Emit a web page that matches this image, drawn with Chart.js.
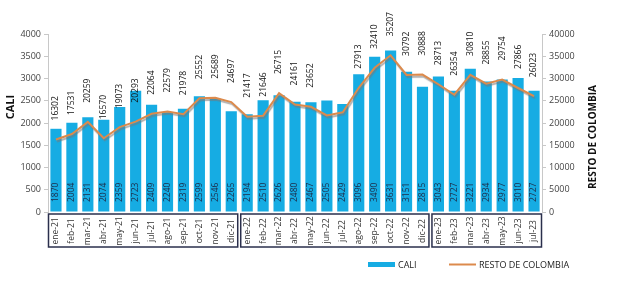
<!DOCTYPE html>
<html>
<head>
<meta charset="utf-8">
<script src="https://cdn.jsdelivr.net/npm/chart.js@4.4.1/dist/chart.umd.min.js"></script>
<style>
  html, body { margin: 0; padding: 0; background: #fff; }
  #wrap { width: 619px; height: 301px; }
</style>
</head>
<body>
<div id="wrap"><canvas id="myChart" width="619" height="301"></canvas></div>
<script>
'use strict';
// datos
const meses = ['ene-21','feb-21','mar-21','abr-21','may-21','jun-21','jul-21','ago-21','sep-21','oct-21','nov-21','dic-21',
  'ene-22','feb-22','mar-22','abr-22','may-22','jun-22','jul-22','ago-22','sep-22','oct-22','nov-22','dic-22',
  'ene-23','feb-23','mar-23','abr-23','may-23','jun-23','jul-23'];
const cali = [1870, 2004, 2131, 2074, 2359, 2723, 2409, 2240, 2319, 2599, 2546, 2265,
  2194, 2510, 2626, 2480, 2467, 2505, 2429, 3096, 3490, 3631, 3151, 2815,
  3043, 2727, 3221, 2934, 2977, 3010, 2727];
const restoColombia = [16302, 17531, 20259, 16570, 19073, 20293, 22064, 22579, 21978, 25552, 25689, 24697,
  21417, 21646, 26715, 24161, 23652, 21700, 22400, 27913, 32410, 35207, 30792, 30888,
  28713, 26354, 30810, 28855, 29754, 27866, 26023];
// etiquetas que no se ven en la imagen original
const ocultas = [17, 18];
const grupos = [[0, 11], [12, 23], [24, 30]];
const ticksCali = [0, 500, 1000, 1500, 2000, 2500, 3000, 3500, 4000];
const ticksResto = [0, 5000, 10000, 15000, 20000, 25000, 30000, 35000, 40000];

const fuente = "'Open Sans', 'Liberation Sans', sans-serif";
const azul = '#16ace3';
const naranja = '#dc8a4c';

// textos extra: valores, meses con recuadros, titulos y leyenda
const extras = {
  id: 'extras',
  beforeDatasetDraw(chart, args) {
    if (args.index === 0) {
      const ctx = chart.ctx;
      ctx.save();
      ctx.shadowColor = 'rgba(120,120,120,0.6)';
      ctx.shadowOffsetX = 1;
      ctx.shadowOffsetY = 2;
      ctx.shadowBlur = 1;
    }
  },
  afterDatasetDraw(chart, args) {
    if (args.index === 0) chart.ctx.restore();
  },
  afterDraw(chart) {
    const ctx = chart.ctx;
    const x = chart.scales.x;
    const area = chart.chartArea;
    const barras = chart.getDatasetMeta(1).data;
    const puntos = chart.getDatasetMeta(0).data;

    const vertical = (txt, px, py, align, color, font) => {
      ctx.save();
      ctx.translate(px, py);
      ctx.rotate(-Math.PI / 2);
      ctx.textAlign = align;
      ctx.textBaseline = 'middle';
      ctx.fillStyle = color;
      ctx.font = font;
      ctx.fillText(txt, 0, 0);
      ctx.restore();
    };

    // valores de CALI dentro de la barra
    barras.forEach((b, i) => {
      vertical(String(cali[i]), b.x, area.bottom - 10, 'left', '#1d2b48', '8.5px ' + fuente);
    });
    // valores resto de colombia sobre la linea
    puntos.forEach((p, i) => {
      if (ocultas.includes(i)) return;
      vertical(String(restoColombia[i]), p.x, p.y - 19, 'left', '#111', '8.5px ' + fuente);
    });

    // meses
    meses.forEach((m, i) => {
      vertical(m, x.getPixelForValue(i), area.bottom + 19, 'center', '#333', '8.5px ' + fuente);
    });

    // recuadros por año
    const ancho = (area.right - area.left) / meses.length;
    ctx.save();
    ctx.strokeStyle = '#2a2f4c';
    ctx.lineWidth = 1.5;
    grupos.forEach(g => {
      const x0 = area.left + g[0] * ancho + (g[0] === 0 ? 0.5 : 1.5);
      const x1 = area.left + (g[1] + 1) * ancho - (g[1] === meses.length - 1 ? 0.5 : 1.5);
      ctx.strokeRect(x0, area.bottom + 2, x1 - x0, 33);
    });
    ctx.restore();

    // titulos de ejes
    vertical('CALI', 11, 107, 'center', '#111', 'bold 11px ' + fuente);
    vertical('RESTO DE COLOMBIA', 593, 137, 'center', '#111', 'bold 10px ' + fuente);

    // leyenda
    ctx.save();
    ctx.fillStyle = azul;
    ctx.fillRect(368, 262, 27, 5);
    ctx.strokeStyle = naranja;
    ctx.lineWidth = 2;
    ctx.beginPath();
    ctx.moveTo(449, 264.5);
    ctx.lineTo(476, 264.5);
    ctx.stroke();
    ctx.fillStyle = '#222';
    ctx.font = '9px ' + fuente;
    ctx.textBaseline = 'middle';
    ctx.textAlign = 'left';
    ctx.fillText('CALI', 398, 265);
    ctx.fillText('RESTO DE COLOMBIA', 479, 265);
    ctx.restore();
  }
};

const ctx = document.getElementById('myChart');
const myChart = new Chart(ctx.getContext('2d'), {
  type: 'bar',
  data: {
    labels: meses,
    datasets: [{
      type: 'line',
      label: 'RESTO DE COLOMBIA',
      data: restoColombia,
      yAxisID: 'y1',
      borderColor: naranja,
      borderWidth: 2,
      pointRadius: 0,
      tension: 0,
      order: 0
    }, {
      type: 'bar',
      label: 'CALI',
      data: cali,
      yAxisID: 'y',
      backgroundColor: azul,
      borderWidth: 0,
      barPercentage: 0.7,
      categoryPercentage: 1,
      order: 1
    }]
  },
  options: {
    responsive: false,
    animation: false,
    layout: { padding: { top: 34, left: 0, right: 0, bottom: 0 } },
    plugins: {
      legend: { display: false },
      tooltip: { enabled: false }
    },
    scales: {
      x: {
        ticks: { display: false },
        grid: { display: false },
        border: { display: false },
        afterFit: s => { s.height = 89; }
      },
      y: {
        position: 'left',
        min: 0,
        max: 4000,
        afterBuildTicks: s => { s.ticks = ticksCali.map(v => ({ value: v })); },
        ticks: { color: '#444', font: { family: fuente, size: 9 }, padding: 3, callback: v => String(v) },
        grid: { drawOnChartArea: false, tickLength: 4, color: '#c8c8c8' },
        border: { color: '#c8c8c8' },
        afterFit: s => { s.width = 48; }
      },
      y1: {
        position: 'right',
        min: 0,
        max: 40000,
        afterBuildTicks: s => { s.ticks = ticksResto.map(v => ({ value: v })); },
        ticks: { color: '#444', font: { family: fuente, size: 9 }, padding: 3, callback: v => String(v) },
        grid: { drawOnChartArea: false, tickLength: 4, color: '#c8c8c8' },
        border: { color: '#c8c8c8' },
        afterFit: s => { s.width = 77; }
      }
    }
  },
  plugins: [extras]
});
</script>
</body>
</html>
